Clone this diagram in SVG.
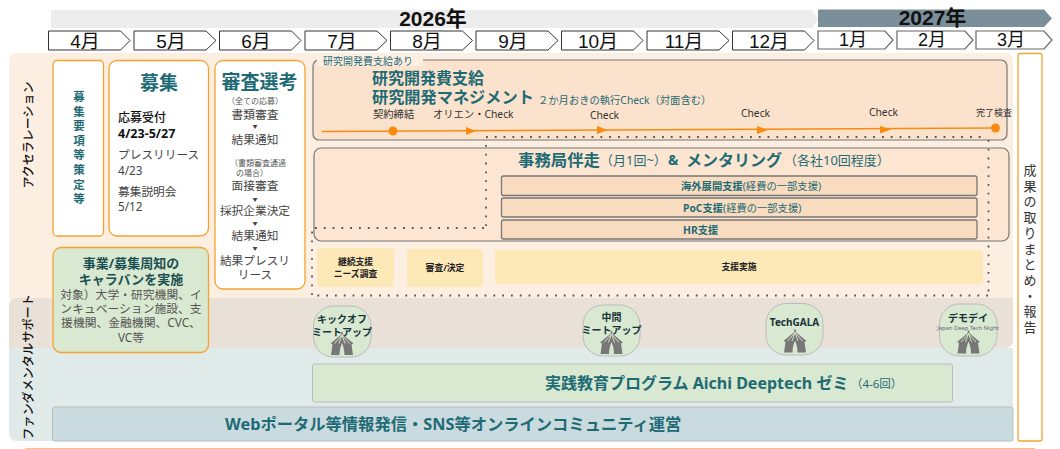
<svg xmlns="http://www.w3.org/2000/svg" width="1060" height="449" viewBox="0 0 1060 449">
<style>
text{font-family:"Noto Sans","Noto Sans CJK JP",sans-serif;fill:#222}
.m{text-anchor:middle}
.b{font-weight:700}
.t{fill:#1f6b75}
.mo{font-family:"Liberation Sans","Noto Sans CJK JP",sans-serif;font-size:19px;text-anchor:middle;fill:#111}
.mo2{font-size:18px}
.yr{font-family:"Liberation Sans","Noto Sans CJK JP",sans-serif;font-size:21px;font-weight:700;text-anchor:middle;fill:#111}
.chev{fill:#fff;stroke:#333;stroke-width:1}
.chev2{fill:#fff;stroke:#666;stroke-width:1.2}
.or{fill:#fff;stroke:#f5a22e;stroke-width:1.3}
.gr{fill:#d9e8d0;stroke:#f5a22e;stroke-width:1.3}
.panel{fill:#fbe2cc;stroke:#777;stroke-width:1.2}
.sub{fill:#f9dcc0;stroke:#777;stroke-width:1.3}
.y{fill:#fde8b8}
.cap{fill:#d9e8d0;stroke:#bbb;stroke-width:1}
.dot{fill:none;stroke:#555;stroke-width:1.8;stroke-dasharray:1.8 7}
.s12{font-size:11.7px;fill:#444}
.s8{font-size:8px;fill:#555}
.tri{fill:#444;font-size:5px}
.ck{font-size:10.300px;fill:#333}
.cv{font-size:10px;font-weight:700;fill:#17343a}
.car{font-size:11.800px;fill:#555}
.cap-t{font-size:13px;font-weight:700;fill:#1c4f52}
.vt{font-size:12px;font-weight:500;fill:#111}
.y8{font-size:8.800px;font-weight:700;fill:#222}
.sb{font-size:10.300px}
</style>
<defs>
<g id="tent">
<path d="M0 1L11.500 10.500L9.500 11.500L11 22L2.500 22C2.500 17 1 12.500 0 10C-1 12.500-2.500 17-2.500 22L-11 22L-9.500 11.500L-11.500 10.500Z" fill="#777"/>
<rect x="-.8" y="-1" width="1.600" height="2.500" fill="#777"/>
<path d="M0 2L-7.500 10.500M0 2L-3 10.500M0 2L3 10.500M0 2L7.500 10.500" stroke="#d9e8d0" stroke-width=".9" fill="none"/>
</g>
</defs>

<g id="years">
<path d="M51 10H812L818 19L812 28H51Z" fill="#ededed"/>
<path d="M818 9.500H1044L1052 18.500L1044 27H818Z" fill="#7a8f9a"/>
<text x="433" y="25.500" class="yr">2026年</text>
<text x="932.500" y="25" class="yr">2027年</text>
</g>

<g id="months">
<path class="chev" d="M48.500 31H120.500L130 40.500L120.500 50H48.500Z"/><text x="85" y="48" class="mo">4月</text>
<path class="chev" d="M134 31H206L216 40.500L206 50H134Z"/><text x="171" y="48" class="mo">5月</text>
<path class="chev" d="M219.500 31H291.500L301 40.500L291.500 50H219.500Z"/><text x="256" y="48" class="mo">6月</text>
<path class="chev" d="M305 31H377L387 40.500L377 50H305Z"/><text x="342" y="48" class="mo">7月</text>
<path class="chev" d="M390.500 31H462.500L472.500 40.500L462.500 50H390.500Z"/><text x="427" y="48" class="mo">8月</text>
<path class="chev" d="M476 31H548L558 40.500L548 50H476Z"/><text x="513" y="48" class="mo">9月</text>
<path class="chev" d="M561.500 31H633.500L643 40.500L633.500 50H561.500Z"/><text x="598" y="48" class="mo">10月</text>
<path class="chev" d="M647 31H719L729 40.500L719 50H647Z"/><text x="684" y="48" class="mo">11月</text>
<path class="chev" d="M732.500 31H804.500L814 40.500L804.500 50H732.500Z"/><text x="769" y="48" class="mo">12月</text>
<path class="chev2" d="M818 31H885L893 40L885 49H818Z"/><text x="853" y="46" class="mo mo2">1月</text>
<path class="chev2" d="M897 31H965L973 40L965 49H897Z"/><text x="932" y="46" class="mo mo2">2月</text>
<path class="chev2" d="M976 31H1044L1052 40L1044 49H976Z"/><text x="1011" y="46" class="mo mo2">3月</text>
</g>

<g id="bands">
<path d="M9 61Q9 53 17 53H1005Q1013 53 1013 61V300H9Z" fill="#fdeee2"/>
<path d="M9 306Q9 298 17 298H1013V340Q1013 348 1005 348H9Z" fill="#e9e1d7"/>
<path d="M9 348H1013V441H17Q9 441 9 433Z" fill="#e0eae9"/>
<text transform="translate(33 135) rotate(-90)" class="m vt">アクセラレーション</text>
<text transform="translate(33 367) rotate(-90)" class="m vt" style="font-size:12.200px">ファンダメンタルサポート</text>
</g>

<g id="node-yoko">
<rect class="or" x="53" y="60.500" width="50.500" height="175.500" rx="4"/>
<text class="m b t" x="79" y="101" style="font-size:11.500px"><tspan x="79">募</tspan><tspan x="79" dy="14.600">集</tspan><tspan x="79" dy="14.600">要</tspan><tspan x="79" dy="14.600">項</tspan><tspan x="79" dy="14.600">等</tspan><tspan x="79" dy="14.600">策</tspan><tspan x="79" dy="14.600">定</tspan><tspan x="79" dy="14.600">等</tspan></text>
</g>

<g id="node-boshu">
<rect class="or" x="109" y="60.500" width="99.500" height="175.500" rx="8"/>
<text x="159" y="90" class="m b t" style="font-size:19px">募集</text>
<text x="118" y="122" style="font-size:12px;font-weight:500;fill:#111">応募受付</text>
<text x="118" y="138" class="b" style="font-size:12.500px;fill:#111">4/23-5/27</text>
<text x="118" y="159" class="s12">プレスリリース</text>
<text x="118" y="175" class="s12">4/23</text>
<text x="118" y="196" class="s12">募集説明会</text>
<text x="118" y="211" class="s12">5/12</text>
</g>

<g id="node-shinsa">
<rect class="or" x="215" y="60.500" width="90" height="228.500" rx="8"/>
<text x="259.500" y="89" class="m b t" style="font-size:19px">審査選考</text>
<text x="255" y="104" class="m s8">（全ての応募）</text>
<text x="255" y="119" class="m s12">書類審査</text>
<text x="255" y="128" class="m tri">▼</text>
<text x="255" y="144" class="m s12">結果通知</text>
<text x="258" y="166" class="m s8">（書類審査通過</text>
<text x="252" y="176" class="m s8">の場合）</text>
<text x="255" y="190" class="m s12">面接審査</text>
<text x="255" y="201" class="m tri">▼</text>
<text x="255" y="215" class="m s12">採択企業決定</text>
<text x="255" y="225" class="m tri">▼</text>
<text x="255" y="240" class="m s12">結果通知</text>
<text x="255" y="250" class="m tri">▼</text>
<text x="255" y="265" class="m s12">結果プレスリ</text>
<text x="255" y="279" class="m s12">リース</text>
</g>

<g id="node-caravan">
<rect class="gr" x="53" y="247.500" width="155.500" height="105" rx="8"/>
<text x="131" y="267.500" class="m cap-t">事業/募集周知の</text>
<text x="131" y="283.500" class="m cap-t">キャラバンを実施</text>
<text x="131" y="298.500" class="m car">対象）大学・研究機関、イ</text>
<text x="131" y="313" class="m car">ンキュベーション施設、支</text>
<text x="131" y="327" class="m car">援機関、金融機関、CVC、</text>
<text x="131" y="342" class="m car">VC等</text>
</g>

<g id="node-kenkyu">
<rect class="panel" x="313" y="60" width="694" height="80" rx="6"/>
<rect x="317" y="55" width="106" height="11" fill="#fdeee2"/>
<text x="323" y="64.500" class="t" style="font-size:10px">研究開発費支給あり</text>
<text x="372" y="84" class="b t" style="font-size:16px">研究開発費支給</text>
<text x="372" y="103" class="b t" style="font-size:16.200px">研究開発マネジメント</text>
<text x="538" y="104" class="t" style="font-size:10.300px">２か月おきの執行Check（対面含む）</text>
<text x="373" y="118" class="ck">契約締結</text>
<text x="433" y="118" class="ck">オリエン・Check</text>
<text x="590" y="119" class="ck">Check</text>
<text x="741" y="117" class="ck">Check</text>
<text x="869" y="116" class="ck">Check</text>
<text x="976" y="116" style="font-size:9px;fill:#333">完了検査</text>
</g>

<g id="node-jimukyoku">
<rect class="panel" x="314" y="148" width="695" height="93" rx="7" fill-opacity=".7"/>
<text x="518" y="165.500" class="b t" style="font-size:16.400px">事務局伴走</text>
<text x="600" y="164.500" class="t" style="font-size:13px">（月1回~）</text>
<text x="668" y="165" class="b t" style="font-size:14px">&amp;</text>
<text x="686" y="165.500" class="b t" style="font-size:16px">メンタリング</text>
<text x="784" y="164.500" class="t" style="font-size:13px">（各社10回程度）</text>
<rect class="sub" x="501.500" y="176" width="475.500" height="19.500" rx="2"/>
<rect class="sub" x="501.500" y="198" width="475.500" height="19" rx="2"/>
<rect class="sub" x="501.500" y="220" width="475.500" height="19" rx="2"/>
<text x="681" y="190" class="b t sb">海外展開支援<tspan font-weight="400">(経費の一部支援)</tspan></text>
<text x="683" y="212" class="b t sb">PoC支援<tspan font-weight="400">(経費の一部支援)</tspan></text>
<text x="683" y="234" class="b t sb">HR支援</text>
</g>

<g id="node-keizoku">
<rect class="y" x="317" y="248" width="77" height="39" rx="3"/>
<text x="355.500" y="265" class="m y8">継続支援</text>
<text x="355.500" y="277" class="m y8">ニーズ調査</text>
</g>
<g id="node-shinsa2">
<rect class="y" x="407" y="249" width="76" height="38" rx="3"/>
<text x="445" y="271" class="m y8">審査/決定</text>
</g>
<g id="node-shien">
<rect class="y" x="495" y="250" width="488" height="34" rx="3"/>
<text x="739" y="270" class="m y8">支援実施</text>
</g>

<g id="connectors">
<path class="dot" d="M486 137H985M988.500 140V296M988 295.500H312M312 295V230M315 228H486M486 226V140"/>
<path d="M322 131.500L995 128" stroke="#f98c10" stroke-width="1.400" fill="none"/>
<circle cx="393" cy="131" r="4.500" fill="#f98c10"/>
<path d="M466 127L476 131L466 135ZM597 126L608 130L597 134ZM757 126L768 130L757 134ZM880 126L891 129.500L880 133.500Z" fill="#f98c10"/>
<circle cx="995.500" cy="128" r="4.500" fill="#f98c10"/>
</g>

<g id="node-seminar">
<rect x="312.500" y="364" width="640" height="38" rx="2" fill="#d9e8d0" stroke="#bbb"/>
<text x="545" y="388.500" class="b t" style="font-size:16px">実践教育プログラム Aichi Deeptech ゼミ</text>
<text x="851" y="387.500" class="t" style="font-size:11.500px">（4-6回）</text>
</g>
<g id="node-web">
<rect x="52.500" y="407" width="960.500" height="34" rx="2" fill="#cadbe0" stroke="#b8bcc0"/>
<text x="225" y="429.500" class="b t" style="font-size:16.300px">Webポータル等情報発信・SNS等オンラインコミュニティ運営</text>
</g>

<g id="node-kickoff">
<rect class="cap" x="313.500" y="306" width="57.500" height="51" rx="20"/>
<use href="#tent" x="342" y="333"/>
<text x="342" y="323" class="m cv">キックオフ</text>
<text x="342" y="335.500" class="m cv">ミートアップ</text>
</g>
<g id="node-chukan">
<rect class="cap" x="583" y="305" width="57" height="51" rx="20"/>
<use href="#tent" x="611.500" y="332"/>
<text x="611.500" y="321" class="m cv">中間</text>
<text x="611.500" y="333.500" class="m cv">ミートアップ</text>
</g>
<g id="node-techgala">
<rect class="cap" x="766" y="303.500" width="57" height="51.500" rx="20"/>
<use href="#tent" x="795" y="330.500"/>
<text x="794.500" y="326" class="m cv">TechGALA</text>
</g>
<g id="node-demo">
<rect class="cap" x="939.500" y="304" width="57.500" height="52" rx="20"/>
<use href="#tent" x="968.500" y="331.500"/>
<text x="968" y="322" class="m cv">デモデイ</text>
<text x="968" y="330" class="m" style="font-size:5.800px;fill:#667">Japan Deep Tech Night</text>
</g>

<g id="node-report">
<rect x="1018" y="53.500" width="24" height="387.500" rx="2" fill="#fff" stroke="#f5a22e" stroke-width="1.300"/>
<text class="m" style="font-size:13px;fill:#333"><tspan x="1030" y="175">成</tspan><tspan x="1030" dy="15.700">果</tspan><tspan x="1030" dy="15.700">の</tspan><tspan x="1030" dy="15.700">取</tspan><tspan x="1030" dy="15.700">り</tspan><tspan x="1030" dy="15.700">ま</tspan><tspan x="1030" dy="15.700">と</tspan><tspan x="1030" dy="15.700">め</tspan><tspan x="1030" dy="15.700">・</tspan><tspan x="1030" dy="15.700">報</tspan><tspan x="1030" dy="15.700">告</tspan></text>
</g>

<path d="M25 448.500H1035" stroke="#fbc08a" stroke-width="1"/>
</svg>
